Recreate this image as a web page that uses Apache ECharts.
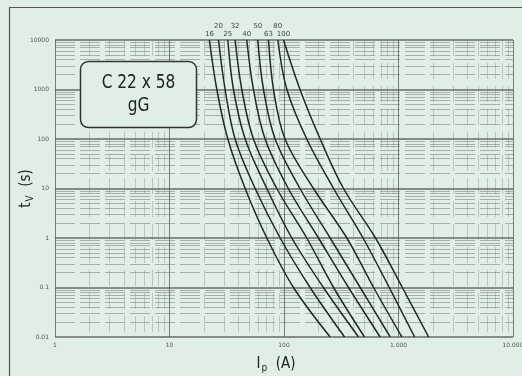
<!DOCTYPE html>
<html>
<head>
<meta charset="utf-8">
<script src="https://cdn.jsdelivr.net/npm/echarts@6/dist/echarts.min.js"></script>
<style>
html,body{margin:0;padding:0;background:#dfefe4;}
#c{width:522px;height:376px;}
</style>
</head>
<body>
<div id="c"></div>
<script>
// Fuse ratings (A)
const ratings = ['16','20','25','32','40','50','63','80','100'];
// Pre-arcing times (s) at which currents are read
const times = [10000, 1000, 100, 10, 1, 0.1, 0.01];
// Prospective currents (A) for each rating at the times above
const cur16  = [22.3, 25.9, 32.3, 45.8, 70.8, 121, 253];
const cur20  = [26.8, 30.6, 37.4, 56.0, 92.6, 169, 338];
const cur25  = [32.3, 36.2, 45.8, 70.8, 117, 221, 448];
const cur32  = [37.4, 42.8, 54.1, 86.5, 158, 271, 505];
const cur40  = [47.3, 54.1, 68.4, 109, 200, 366, 692];
const cur50  = [59.0, 66.2, 83.7, 138, 253, 463, 847];
const cur63  = [73.2, 81.0, 102, 181, 354, 606, 1071];
const cur80  = [88.3, 106, 158, 271, 490, 830, 1383];
const cur100 = [99.1, 138, 207, 331, 630, 1080, 1833];
const currents = [cur16, cur20, cur25, cur32, cur40, cur50, cur63, cur80, cur100];
// Tick labels
const xTicks = ['1', '10', '100', '1.000', '10.000'];
const yTicks = ['0.01', '0.1', '1', '10', '100', '1000', '10000'];

const FONT_N = "'Liberation Sans Narrow', 'DejaVu Sans Condensed', 'Roboto Condensed', 'Liberation Sans', sans-serif";

const chart = echarts.init(document.getElementById('c'), null, {renderer: 'canvas'});

const series = ratings.map((r, i) => ({
  name: r,
  type: 'line',
  smooth: 0.35,
  symbol: 'none',
  z: 5,
  lineStyle: {color: '#262626', width: 1.5},
  data: currents[i].map((c, k) => {
    const item = {value: [c, times[k]]};
    if (k === 0) {
      item.symbol = 'circle';
      item.symbolSize = 0.1;
      item.label = {
        show: true, formatter: r, position: 'top',
        distance: (i % 2 === 1) ? 10 : 2,
        fontSize: 7, color: '#444', fontFamily: 'DejaVu Sans'
      };
    }
    return item;
  })
}));

const nameRich = {
  a: {fontSize: 15, fontFamily: FONT_N, color: '#222'},
  b: {fontSize: 10, fontFamily: FONT_N, color: '#222', verticalAlign: 'bottom', padding: [8, 0, 0, 1]}
};

chart.setOption({
  backgroundColor: '#dfefe4',
  animation: false,
  grid: {left: 55, right: 9, top: 40, bottom: 39, outerBoundsMode: 'none', containLabel: false},
  xAxis: {
    type: 'log', logBase: 10, min: 1, max: 10000, interval: 1,
    name: '{a|I}{b|p}  {a|(A)}', nameLocation: 'middle', nameGap: 18,
    nameMoveOverlap: false,
    nameTextStyle: {rich: nameRich, fontSize: 15, fontFamily: FONT_N, color: '#222', padding: [0, 16, 0, 0]},
    axisLine: {show: false}, axisTick: {show: false},
    axisLabel: {
      fontSize: 6, color: '#555', fontFamily: 'DejaVu Sans', margin: 5,
      formatter: v => xTicks[Math.round(Math.log10(v))]
    },
    splitLine: {show: true, lineStyle: {color: '#555', width: 1, opacity: 0.75}},
    minorTick: {show: false, splitNumber: 9},
    minorSplitLine: {show: true, lineStyle: {color: '#777', width: 1, opacity: 0.35, type: [16, 7]}}
  },
  yAxis: {
    type: 'log', logBase: 10, min: 0.01, max: 10000, interval: 1,
    name: '{a|t}{b|V}  {a|(s)}', nameLocation: 'middle', nameGap: 20, nameRotate: 90,
    nameMoveOverlap: false,
    nameTextStyle: {rich: nameRich, fontSize: 15, fontFamily: FONT_N, color: '#222'},
    axisLine: {show: false}, axisTick: {show: false},
    axisLabel: {
      fontSize: 6, color: '#555', fontFamily: 'DejaVu Sans', margin: 6,
      formatter: v => yTicks[Math.round(Math.log10(v)) + 2]
    },
    splitLine: {show: true, lineStyle: {color: '#4a4a4a', width: 1.5, opacity: 0.8}},
    minorTick: {show: false, splitNumber: 9},
    minorSplitLine: {show: true, lineStyle: {color: '#707070', width: 1, opacity: 0.5, type: [20, 5]}}
  },
  graphic: [
    {type: 'rect', z: 100, silent: true,
     shape: {x: 9.5, y: 7.5, width: 530, height: 380},
     style: {fill: 'none', stroke: '#555', lineWidth: 1.2}},
    {type: 'rect', z: 100, silent: true,
     shape: {x: 80.5, y: 61.5, width: 116, height: 66, r: 8},
     style: {fill: '#dfefe4', stroke: '#333', lineWidth: 1.5}},
    {type: 'text', z: 101, silent: true, x: 138.5, y: 94.5, scaleX: 0.9,
     style: {text: 'C 22 x 58\ngG', x: 0, y: 0, align: 'center', verticalAlign: 'middle',
             fontSize: 19, lineHeight: 23, fontFamily: FONT_N, fill: '#222'}}
  ],
  series: series
});
</script>
</body>
</html>
